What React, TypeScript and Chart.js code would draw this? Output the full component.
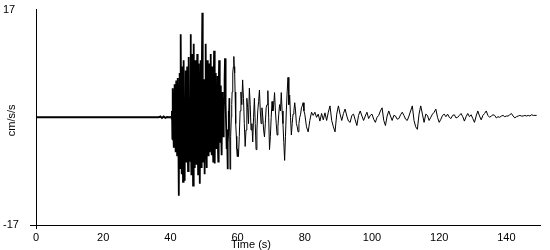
import React, { useEffect, useRef } from "react";
import { Chart, registerables } from "chart.js";

Chart.register(...registerables);

// Pre-event (quiet) portion: explicit sample times and values (cm/s/s)
const preTimes = [0, 36.5, 37, 37.5, 38, 38.5, 39, 39.5];
const preValues = [0, 0, 0.12, -0.1, 0.12, -0.08, 0.05, 0];

// Strong-motion portion sampled every 0.125 s from 40 s
const denseStart = 40;
const denseStep = 0.125;
const denseValues = [
  0, 0.2, -0.3, 1, -3.5, 2, 4.6, -2,
  -4.8, 3, 5.2, -1, -5.5, 2, 5.8, -3,
  -6, 1, 6.2, -4, -12.4, 3, 7, -8,
  2, 13.1, -3, -9, 4, 8, -10.2, 1,
  9, -4, -10, 3, 7.4, -2, -7, 5,
  8, -3, -8.5, 4, 9.5, -5, -7, 2,
  13.1, -2, -9, 5, 10, -3, -10.8, 4,
  11.6, -5, -8, 2, 9, -6, -7.5, 3,
  10, -2, -9, 4, 8.5, -5, -10.5, 1,
  9, -3, -8, 5, 16.5, -4, -7, 2,
  6, -4, -9, 3, 11.6, -2, -8, 4,
  9, -3, -6, 5, 8.5, -2, -5.5, 3,
  10, -4, -6, 2, 8, -3, -7, 4,
  10.5, -2, -7.3, 3, 7, -4, -5, 2,
  6.5, -3, -7, 4, 9, -2, -4, 3,
  5, -3, -6, 1, 4, -2, -3, 2,
  3, 6, 9.3, 4, 2, -2, -5, -3,
  -8.2, -4, -2, 1, 3, 0, -8.2, -5,
  -3, 0, 2, 4, 5, 7, 8, 9.6,
  8, 7, 4, 1, -1, -3, -5, -6.2,
];

// Late strong motion sampled every 0.25 s from 60 s
const midStart = 60;
const midStep = 0.25;
const midValues = [
  -5, -6.2, -3, 1, 4, 2, 5.9, 3, -1, -4.6,
  -2, 3, 1.5, -1, 4.6, 2, -2, -1, -3.9, 0,
  3, -1, -5.1, -2, 1, 2.5, 4.3, 1, -1, 1.5,
  0, -2, -3.1, -1, 1.5, 2, 4.2, 0, -5.1, -3,
  0, 2.5, 1, 2, 3.9, 1, -1, -2.8, -1.5, 0.5,
  2, 1, 3.9, 1, -1, -4, -6.8, -3, 1, 4,
  6.3, 2, 3.5, 0, -2.8, -1, 0.5, 1, 2.3, 1,
  -1, -1.5, -2.3, -1, 0, 0.5, 1.5, 1.8, 2.3, 1,
];

// Coda sampled every 0.5 s from 80 s
const tailStart = 80;
const tailStep = 0.5;
const tailValues = [
  0.5,
  -1.5, -2.3, -0.5, 0.8, 0.3, 0.8, 0, 0.5, -0.6, 0.6,
  -0.4, 0.7, -0.5, 0.8, 1.8, -0.5, -1.5, -2.3, 0.5, 1.8,
  0.5, -0.5, 0.6, 1.3, 0.2, -0.6, -0.8, 0.3, 0.5, -0.4,
  -1.3, 0.3, 1.0, 0.2, -0.5, 0.2, 0.8, -0.2, 0.3, 0.5,
  -0.3, -0.8, 0, 0.3, 1.0, 1.5, -0.5, -1.3, 0.2, 1.0,
  0.2, -0.5, 0.3, 0.2, -0.3, -0.2, 0.4, 0.8, 0.3, -0.3,
  -0.5, 0.2, 1.0, 1.8, -0.5, -1.5, -1.9, 0.5, 1.8, 0.5,
  -0.8, 0.5, 0.3, -0.5, 0, 0.5, 0.8, 1.3, 0, -0.8,
  -0.3, 0.3, 0.5, 0.1, 0.5, 0, -0.2, 0.3, 0.4, -0.1,
  0, 0.3, 0.6, 0.1, -0.6, 0.1, 0.6, 0.1, 0.4, -0.2,
  -0.8, 0.2, 1.0, 0.2, -0.4, 0.3, 0.6, 1.0, 0.3, 0,
  0.2, 0.4, 0.3, -0.1, 0.1, 0, 0.2, 0.3, 0.1, 0.2,
  0.2, 0.4, 0.6, 0.2, -0.1, 0.1, 0.2, 0.3, 0.2, 0.2,
  0.3, 0.2, 0.3, 0.2, 0.4, 0.3, 0.3, 0.3,
];

const xTickValues = [0, 20, 40, 60, 80, 100, 120, 140];
const yTickValues = [-17, 17];
const xMin = 0;
const xMax = 150;
const yMin = -17;
const yMax = 17;
const xTitle = "Time (s)";
const yTitle = "cm/s/s";

const FONT = "'Liberation Sans', Arial, sans-serif";

export default function App() {
  const canvasRef = useRef<HTMLCanvasElement | null>(null);

  useEffect(() => {
    if (!canvasRef.current) return;
    const points = [
      ...preTimes.map((t, i) => ({ x: t, y: preValues[i] })),
      ...denseValues.map((v, i) => ({ x: denseStart + i * denseStep, y: v })),
      ...midValues.map((v, i) => ({ x: midStart + i * midStep, y: v })),
      ...tailValues.map((v, i) => ({ x: tailStart + i * tailStep, y: v })),
    ];

    const titlesPlugin = {
      id: "axisTitles",
      afterDraw(chart: any) {
        const { ctx, chartArea } = chart;
        ctx.save();
        ctx.fillStyle = "#000";
        ctx.font = `11px ${FONT}`;
        ctx.textAlign = "center";
        ctx.textBaseline = "middle";
        ctx.fillText(xTitle, 251, 245);
        ctx.translate(12, (chartArea.top + chartArea.bottom) / 2 + 3);
        ctx.rotate(-Math.PI / 2);
        ctx.fillText(yTitle, 0, 0);
        ctx.restore();
      },
    };

    const chart = new Chart(canvasRef.current, {
      type: "line",
      data: {
        datasets: [
          {
            data: points,
            borderColor: "#000",
            borderWidth: 1,
            pointRadius: 0,
            tension: 0,
            fill: false,
            segment: {
              borderWidth: (ctx: any) => {
                const x = ctx.p1.parsed.x;
                if (x <= 40) return 2;
                if (x > 40.6 && x < 57.5) return 1.8;
                return 1;
              },
            },
          },
        ],
      },
      options: {
        responsive: false,
        animation: false,
        layout: { padding: { left: 3, top: 5, right: 10, bottom: 0 } },
        plugins: {
          legend: { display: false },
          tooltip: { enabled: false },
        },
        scales: {
          x: {
            type: "linear",
            min: xMin,
            max: xMax,
            afterFit: (scale: any) => {
              scale.height = 25;
            },
            afterBuildTicks: (scale: any) => {
              scale.ticks = xTickValues.map((v) => ({ value: v }));
            },
            border: { color: "#000", width: 1 },
            grid: {
              drawOnChartArea: false,
              drawTicks: true,
              tickLength: 4,
              tickColor: (ctx: any) =>
                ctx.tick && ctx.tick.value === 0 ? "#000" : "rgba(0,0,0,0)",
            },
            ticks: {
              color: "#000",
              font: { family: FONT, size: 11 },
              padding: 2,
              maxRotation: 0,
              autoSkip: false,
            },
          },
          y: {
            type: "linear",
            min: yMin,
            max: yMax,
            afterFit: (scale: any) => {
              scale.width = 33;
            },
            afterBuildTicks: (scale: any) => {
              scale.ticks = yTickValues.map((v) => ({ value: v }));
            },
            border: { color: "#000", width: 1 },
            grid: {
              drawOnChartArea: false,
              drawTicks: true,
              tickLength: 6,
              tickColor: (ctx: any) =>
                ctx.tick && ctx.tick.value === -17 ? "#000" : "rgba(0,0,0,0)",
            },
            ticks: {
              color: "#000",
              font: { family: FONT, size: 11 },
              crossAlign: "far",
              autoSkip: false,
            },
          },
        },
      },
      plugins: [titlesPlugin],
    });

    return () => {
      chart.destroy();
    };
  }, []);

  return (
    <div
      style={{
        position: "fixed",
        left: 0,
        top: 0,
        width: 550,
        height: 250,
        background: "#fff",
      }}
    >
      <canvas
        ref={canvasRef}
        width={550}
        height={250}
        style={{ display: "block", width: 550, height: 250 }}
      />
    </div>
  );
}
